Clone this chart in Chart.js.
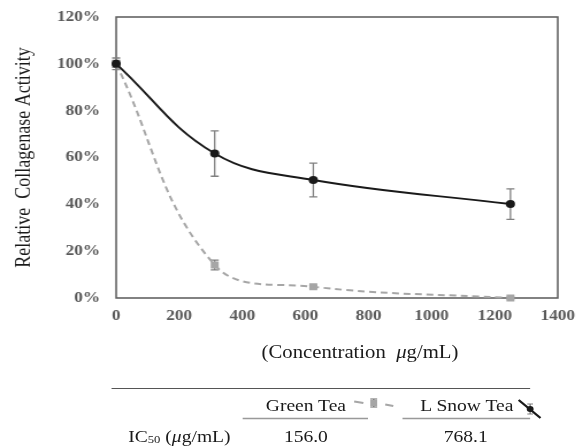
<!DOCTYPE html>
<html>
<head>
<meta charset="utf-8">
<script src="https://cdn.jsdelivr.net/npm/chart.js@4.4.0/dist/chart.umd.min.js"></script>
<style>
  html, body { margin: 0; padding: 0; background: #fff; }
  #page {
    position: relative; width: 509px; height: 446px;
    transform: scaleX(1.15); transform-origin: 0 0;
    font-family: 'Liberation Serif', 'Times New Roman', serif; color: #1a1a1a;
  }
  #chart-box { position: absolute; left: 0; top: 0; width: 509px; height: 446px; }
  .txt { position: absolute; white-space: nowrap; transform: translate(-50%, -50%); font-size: 17px; line-height: 1; }
  .txt sub { font-size: 11px; vertical-align: -1px; }
  svg { position: absolute; left: 0; top: 0; }
</style>
</head>
<body>
<div id="page">
  <div id="chart-box"><canvas id="collagenase-chart"></canvas></div>

  <div class="txt" style="left:313px; top:352px; font-size:18px;">(Concentration&nbsp; <i>μ</i>g/mL)</div>

  <svg width="509" height="446">
    <line x1="97" y1="388.5" x2="461" y2="388.5" stroke="#555" stroke-width="1"/>
    <line x1="211" y1="418.5" x2="320" y2="418.5" stroke="#999" stroke-width="1.5"/>
    <line x1="350" y1="418.5" x2="461" y2="418.5" stroke="#999" stroke-width="1.5"/>
    <!-- green tea swatch -->
    <line x1="308" y1="401.5" x2="316" y2="403" stroke="#a6a6a6" stroke-width="2"/>
    <line x1="335" y1="404.5" x2="342" y2="406" stroke="#a6a6a6" stroke-width="2"/>
    <line x1="325" y1="399" x2="325" y2="407" stroke="#808080" stroke-width="1.2"/>
    <line x1="322" y1="399" x2="328" y2="399" stroke="#808080" stroke-width="1.2"/>
    <line x1="322" y1="407" x2="328" y2="407" stroke="#808080" stroke-width="1.2"/>
    <rect x="322" y="400" width="6" height="6" fill="#a6a6a6"/>
    <!-- snow tea swatch -->
    <line x1="451" y1="400" x2="470" y2="418" stroke="#1a1a1a" stroke-width="2"/>
    <line x1="461" y1="404" x2="461" y2="414" stroke="#808080" stroke-width="1.2"/>
    <line x1="458.5" y1="404" x2="463.5" y2="404" stroke="#808080" stroke-width="1.2"/>
    <line x1="458.5" y1="414" x2="463.5" y2="414" stroke="#808080" stroke-width="1.2"/>
    <circle cx="461" cy="409" r="3" fill="#1a1a1a"/>
  </svg>

  <div class="txt" style="left:266px; top:405px;">Green Tea</div>
  <div class="txt" style="left:406px; top:405px;">L Snow Tea</div>
  <div class="txt" style="left:156px; top:436px;">IC<sub>50</sub> (<i>μ</i>g/mL)</div>
  <div class="txt" style="left:266px; top:436px;">156.0</div>
  <div class="txt" style="left:405px; top:436px;">768.1</div>
</div>

<script>
const concentrations = [0, 312.5, 625, 1250];
const greenTea = [100, 14.1, 4.8, 0];
const greenTeaErr = [1.5, 2.1, 0.6, 0.4];
const snowTea = [100, 61.7, 50.4, 40.1];
const snowTeaErr = [2.5, 9.7, 7.2, 6.5];
const xTicks = [0, 200, 400, 600, 800, 1000, 1200, 1400];
const yTicks = [0, 20, 40, 60, 80, 100, 120];

const serif = "'Liberation Serif', 'Times New Roman', serif";
const toPoints = (values) => values.map((v, i) => ({ x: concentrations[i], y: v }));

const frameBox = {
  id: 'frameBox',
  beforeDatasetsDraw(chart) {
    const { ctx, chartArea: a } = chart;
    ctx.save();
    ctx.strokeStyle = '#595959';
    ctx.lineWidth = 1.5;
    ctx.strokeRect(a.left, a.top, a.right - a.left, a.bottom - a.top);
    ctx.restore();
  },
};

const errorBars = {
  id: 'errorBars',
  beforeDatasetsDraw(chart) {
    const { ctx, scales: { x, y } } = chart;
    ctx.save();
    ctx.strokeStyle = '#808080';
    ctx.lineWidth = 1.3;
    chart.data.datasets.forEach((ds) => {
      ds.data.forEach((pt, i) => {
        const err = ds.errors[i];
        const px = x.getPixelForValue(pt.x);
        const top = y.getPixelForValue(pt.y + err);
        const bottom = y.getPixelForValue(pt.y - err);
        ctx.beginPath();
        ctx.moveTo(px, top);
        ctx.lineTo(px, bottom);
        ctx.moveTo(px - 3.5, top);
        ctx.lineTo(px + 3.5, top);
        ctx.moveTo(px - 3.5, bottom);
        ctx.lineTo(px + 3.5, bottom);
        ctx.stroke();
      });
    });
    ctx.restore();
  },
};

new Chart(document.getElementById('collagenase-chart'), {
  type: 'line',
  data: {
    datasets: [
      {
        label: 'L Snow Tea',
        data: toPoints(snowTea),
        errors: snowTeaErr,
        borderColor: '#1a1a1a',
        backgroundColor: '#1a1a1a',
        borderWidth: 2,
        pointRadius: 3,
        tension: 0.4,
        clip: false,
      },
      {
        label: 'Green Tea',
        data: toPoints(greenTea),
        errors: greenTeaErr,
        borderColor: '#a6a6a6',
        backgroundColor: '#a6a6a6',
        borderWidth: 2,
        borderDash: [6, 4],
        pointStyle: 'rect',
        pointRadius: 3.5,
        tension: 0.4,
        clip: false,
      },
    ],
  },
  options: {
    responsive: true,
    maintainAspectRatio: false,
    animation: false,
    layout: { padding: { left: 0, right: 23, top: 17, bottom: 0 } },
    plugins: { legend: { display: false }, tooltip: { enabled: false } },
    scales: {
      x: {
        type: 'linear',
        min: 0,
        max: 1400,
        afterBuildTicks: (scale) => { scale.ticks = xTicks.map((v) => ({ value: v })); },
        afterFit: (scale) => { scale.height = 148; },
        grid: { display: false, drawTicks: false, tickLength: 0 },
        border: { display: false },
        ticks: {
          color: '#595959',
          padding: 9,
          maxRotation: 0,
          callback: (v) => String(v),
          font: { family: serif, size: 15, weight: 'bold' },
        },
      },
      y: {
        min: 0,
        max: 120,
        afterBuildTicks: (scale) => { scale.ticks = yTicks.map((v) => ({ value: v })); },
        afterFit: (scale) => {
          scale.width = 101;
          scale.paddingTop = 0;
          scale.paddingBottom = 0;
        },
        grid: { display: false, drawTicks: false, tickLength: 0 },
        border: { display: false },
        ticks: {
          color: '#595959',
          padding: 14,
          callback: (v) => v + '%',
          font: { family: serif, size: 15, weight: 'bold' },
        },
        title: {
          display: true,
          text: 'Relative  Collagenase Activity',
          color: '#1a1a1a',
          padding: { top: 10, bottom: 0 },
          font: { family: serif, size: 18 },
        },
      },
    },
  },
  plugins: [frameBox, errorBars],
});
</script>
</body>
</html>
